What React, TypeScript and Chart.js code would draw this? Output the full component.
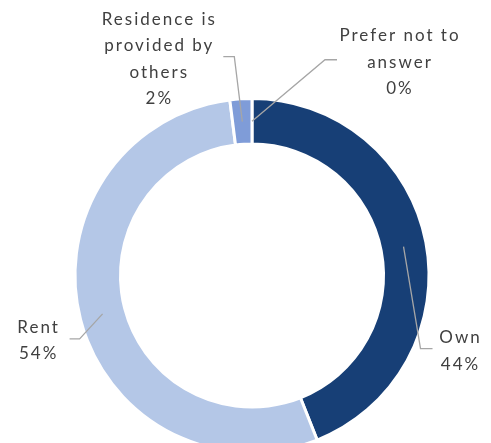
import React, { useEffect, useRef } from 'react';
import { Chart, registerables } from 'chart.js';

Chart.register(...registerables);

const categories = ['Own', 'Rent', 'Residence is provided by others', 'Prefer not to answer'];
const labelLines = [['Own'], ['Rent'], ['Residence is', 'provided by', 'others'], ['Prefer not to', 'answer']];
const values = [44, 54, 2, 0];
const colors = ['#173F76', '#B4C7E7', '#7F9CD8', '#4472C4'];

// Leader layout (label placement only): elbow offset from slice anchor, horizontal run, text centre offset
const leaders = [
  { ex: 17, ey: 102, hx: 12, tx: 27, ty: 2 },
  { ex: -23, ey: 25, hx: -10, tx: -32, ty: 1 },
  { ex: -8, ey: -65, hx: -11, tx: -65, ty: 2 },
  { ex: 73, ey: -61.5, hx: 12, tx: 62, ty: 2 },
];

const FONT = '17px Lato';
const LINE_H = 26.5;

export default function App() {
  const ref = useRef<HTMLCanvasElement>(null);

  useEffect(() => {
    const canvas = ref.current;
    if (!canvas) return;
    const total = values.reduce((a, b) => a + b, 0);

    const leaderPlugin = {
      id: 'leaderLabels',
      afterDraw(chart: any) {
        const ctx = chart.ctx as CanvasRenderingContext2D;
        const meta = chart.getDatasetMeta(0);
        meta.data.forEach((arc: any, i: number) => {
          const p = arc.getProps(['x', 'y', 'startAngle', 'endAngle', 'innerRadius', 'outerRadius'], true);
          const mid = (p.startAngle + p.endAngle) / 2;
          const r = (p.innerRadius + p.outerRadius) / 2;
          const ax = p.x + Math.cos(mid) * r;
          const ay = p.y + Math.sin(mid) * r;
          const L = leaders[i];
          const exx = ax + L.ex;
          const eyy = ay + L.ey;
          const hx = exx + L.hx;
          ctx.save();
          ctx.strokeStyle = '#A6A6A6';
          ctx.lineWidth = 1.3;
          ctx.beginPath();
          ctx.moveTo(ax, ay);
          ctx.lineTo(exx, eyy);
          ctx.lineTo(hx, eyy);
          ctx.stroke();

          const lines = [...labelLines[i], Math.round((values[i] / total) * 100) + '%'];
          const cx = hx + L.tx;
          const cy = eyy + L.ty;
          ctx.font = FONT;
          (ctx as any).letterSpacing = '2px';
          ctx.fillStyle = '#404040';
          ctx.textAlign = 'center';
          ctx.textBaseline = 'alphabetic';
          lines.forEach((t, k) => {
            const my = cy + (k - (lines.length - 1) / 2) * LINE_H;
            ctx.fillText(t, cx + 1, my + 6);
          });
          ctx.restore();
        });
      },
    };

    const chart = new Chart(canvas, {
      type: 'doughnut',
      data: {
        labels: categories,
        datasets: [
          {
            data: values,
            backgroundColor: colors,
            borderColor: '#FFFFFF',
            borderWidth: 3,
          },
        ],
      },
      options: {
        responsive: false,
        animation: false,
        cutout: '74.3%',
        layout: { padding: { left: 65.5, right: 52.5, top: 89, bottom: 24 } },
        plugins: {
          legend: { display: false },
          tooltip: { enabled: false },
        },
      },
      plugins: [leaderPlugin],
    });
    return () => chart.destroy();
  }, []);

  return (
    <div style={{ width: 475, height: 435, overflow: 'hidden', position: 'relative' }}>
      <canvas ref={ref} width={475} height={470} style={{ display: 'block' }} />
    </div>
  );
}
